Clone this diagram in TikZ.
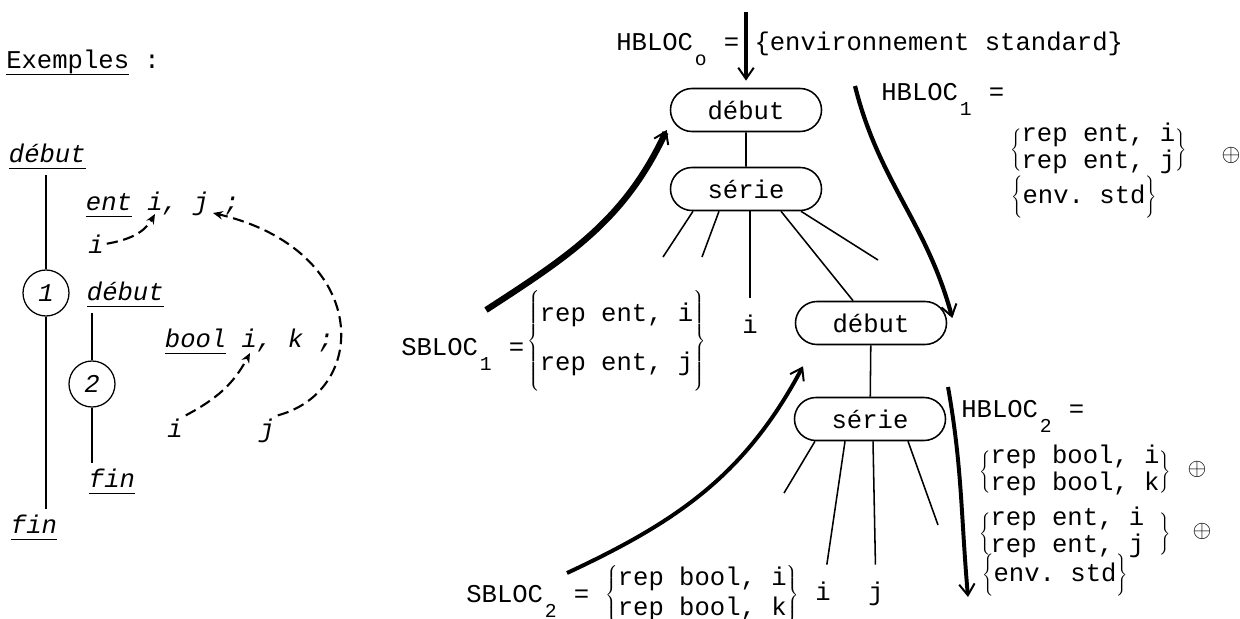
\documentclass[tikz,border=0pt]{standalone}
\usepackage{fontspec}
\setmonofont{Liberation Mono}
\usetikzlibrary{positioning,arrows.meta,shapes.misc,calc}

\newcommand{\blocsub}[1]{\makebox[0.6em]{\raisebox{-0.6em}{\fontsize{14}{14}\selectfont #1}}}
\newcommand{\keyword}[1]{\setbox0\hbox{#1}\rlap{\rule[-5pt]{\wd0}{1pt}}\box0\relax}
\newcommand{\repset}[3][0pt]{$\left\{\begin{tabular}{@{}l@{}}#2\\[#1]#3\end{tabular}\right\}$}
\newcommand{\envset}[1]{$\left\{\rule[-10pt]{0pt}{28pt}\mbox{#1}\right\}$}

\tikzset{
  blocbox/.style={rounded rectangle,draw,line width=1.1pt,minimum width=3.775cm,minimum height=1.075cm,inner sep=0pt},
  branch/.style={line width=1.1pt},
  leftline/.style={line width=0.8pt},
  flow/.style={line width=#1,-{Straight Barb[length=8pt,width=11pt,line width=1.4pt]}},
  useflow/.style={line width=1.5pt,dash pattern=on 8pt off 4pt,-{Stealth[length=7pt,width=6pt]}},
  kwtext/.style={font=\ttfamily\itshape\fontsize{18.2}{19}\selectfont,inner sep=4pt},
  usevar/.style={kwtext,anchor=base,inner sep=2pt},
  numcircle/.style={circle,draw,line width=0.9pt,minimum size=1.15cm,inner sep=0pt,font=\ttfamily\itshape\fontsize{18.2}{19}\selectfont},
  label/.style={anchor=base west,inner sep=0pt},
  setnode/.style={anchor=west,inner sep=0pt},
  pairset/.style={setnode,execute at begin node={\delimiterfactor=650 \delimitershortfall=12pt}},
  leaf/.style={anchor=base,inner sep=2pt,outer sep=10pt},
  plusnode/.style={font=\fontsize{17}{17}\selectfont,inner sep=0pt}
}

\begin{document}
\begin{tikzpicture}[x=0.025cm,y=-0.025cm,font=\ttfamily\fontsize{18.2}{19}\selectfont]
  \useasboundingbox (0,0) rectangle (1240,618);

  \node[label] (exTitle) at (6,68) {\keyword{Exemples} :};
  \node[kwtext,anchor=base west] (outerStart) at (3,162) {\keyword{début}};
  \node[numcircle] (blockOne) at (46,293) {1};
  \node[kwtext,anchor=base west] (outerEnd) at (5,533) {\keyword{fin}};
  \node[kwtext,anchor=base west] (declEnt) at (80,210) {\keyword{ent} i, j ;};
  \node[usevar] (useI1) at (96,253) {i};
  \node[kwtext,anchor=base west] (innerStart) at (81,300) {\keyword{début}};
  \node[numcircle] (blockTwo) at (92,384) {2};
  \node[kwtext,anchor=base west] (innerEnd) at (83,487) {\keyword{fin}};
  \node[kwtext,anchor=base west] (declBool) at (159,347) {\keyword{bool} i, k ;};
  \node[usevar] (useI2) at (175,437) {i};
  \node[usevar] (useJ) at (267,437) {j};

  \draw[leftline] (outerStart.south -| blockOne) -- (blockOne);
  \draw[leftline] (blockOne) -- (blockOne |- outerEnd.north);
  \draw[leftline] (innerStart.south -| blockTwo) -- (blockTwo);
  \draw[leftline] (blockTwo) -- (blockTwo |- innerEnd.north);

  \coordinate (entI) at ($(declEnt.base west)+(75,4)$);
  \coordinate (entJ) at ($(declEnt.base west)+(133,3)$);
  \coordinate (boolI) at ($(declBool.base west)+(91,6)$);
  \draw[useflow] (useI1.east) to[out=10,in=-120] (entI);
  \draw[useflow] (useI2.north east) to[out=28,in=-118] (boolI);
  \draw[useflow] (useJ.north east) .. controls +(93,-25) and +(157,37) .. (entJ);

  \node[label] (hblocZero) at (616,50) {HBLOC\blocsub{o} = \{environnement standard\}};
  \node[blocbox] (startBloc) at (746,110) {début};
  \node[blocbox] (serieBloc) at (746,189) {série};
  \node[blocbox] (startSub) at (871,323) {début};
  \node[blocbox] (serieSub) at (870,419) {série};
  \node[leaf] (leafI) at (750,333) {i};
  \node[leaf] (leafSubI) at (823,600) {i};
  \node[leaf] (leafSubJ) at (876,600) {j};

  \draw[branch] (startBloc) -- (serieBloc);
  \draw[branch] (startSub) -- (serieSub);
  \coordinate (leafA) at (663,257);
  \coordinate (leafB) at (702,257);
  \coordinate (leafD) at (878,260);
  \foreach \dx/\tip in {-53/leafA,-27/leafB,4/leafI,35/startSub,55/leafD}
    \draw[branch] ($(serieBloc.south)+(\dx,0)$) -- (\tip);
  \coordinate (subA) at (784,493);
  \coordinate (subD) at (938,525);
  \foreach \dx/\tip in {-55/subA,-25/leafSubI,3/leafSubJ,38/subD}
    \draw[branch] ($(serieSub.south)+(\dx,0)$) -- (\tip);

  \node[label] (hblocOne) at (881,100) {HBLOC\blocsub{1} =};
  \node[pairset] (hsetOneA) at (1010,150) {\repset{rep ent, i}{rep ent, j}};
  \node[plusnode] (plusOne) at (1231,155) {$\oplus$};
  \node[setnode] (hsetOneB) at (1011,197) {\envset{env. std}};

  \node[label] (hblocTwo) at (961,417) {HBLOC\blocsub{2} =};
  \node[pairset] (hsetTwoA) at (979,472) {\repset{rep bool, i}{rep bool, k}};
  \node[plusnode] (plusTwoA) at (1197,469) {$\oplus$};
  \node[pairset] (hsetTwoB) at (979,534) {\repset{rep ent, i\phantom{x}}{rep ent, j}};
  \node[plusnode] (plusTwoB) at (1202,531) {$\oplus$};
  \node[setnode] (hsetTwoC) at (982,575) {\envset{env. std}};

  \node[label] (sblocOne) at (401,355) {SBLOC\blocsub{1} =};
  \node[setnode,execute at begin node={\delimitershortfall=-18pt}] (ssetOne) at (527,341) {\repset[16pt]{rep ent, i}{rep ent, j}};
  \node[label] (sblocTwo) at (466,602) {SBLOC\blocsub{2} = };
  \node[setnode] (ssetTwo) at (605,595) {\repset[2pt]{rep bool, i}{rep bool, k}};

  \coordinate (envTop) at (746,12);
  \draw[flow=3.2pt,shorten >=5pt] (envTop) -- (startBloc.north);
  \coordinate (sTail1) at (486,310);
  \draw[flow=4.4pt] (sTail1) to[out=33,in=-115] ($(startBloc.west)+(-3,20)$);
  \coordinate (hTail1) at (855,86);
  \draw[flow=3pt] (hTail1) to[out=-76,in=105] ($(startSub.east)+(5,-5)$);
  \coordinate (sTail2) at (567,573);
  \draw[flow=2.8pt] (sTail2) to[out=25,in=-118] ($(startSub.south)+(-68,21)$);
  \coordinate (hTail2) at (948,387);
  \coordinate (hHead2) at (968,597);
  \draw[flow=2.8pt] (hTail2) to[out=-80,in=95] (hHead2);
\end{tikzpicture}
\end{document}
